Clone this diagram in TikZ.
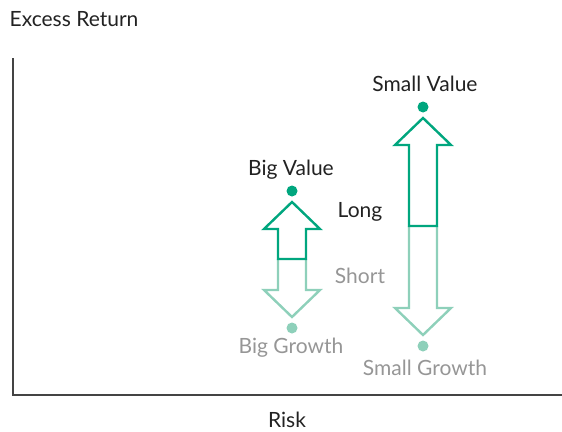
\documentclass[tikz,border=0pt]{standalone}
\usepackage{fontspec}
\setmainfont{Lato}
\definecolor{dkgreen}{RGB}{0,166,126}
\definecolor{ltgreen}{RGB}{142,208,186}
\definecolor{txtdark}{RGB}{34,34,34}
\definecolor{txtgray}{RGB}{150,150,150}
\definecolor{axisc}{RGB}{68,68,68}
\begin{document}
\begin{tikzpicture}[x=1pt,y=-1pt,
  lbl/.style={font=\fontsize{21}{25}\selectfont,text=txtdark,inner sep=0pt},
  glbl/.style={lbl,text=txtgray},
  dotv/.style={circle,fill=dkgreen,inner sep=0pt,minimum size=11pt},
  dotg/.style={circle,fill=ltgreen,inner sep=0pt,minimum size=11pt},
  uparr/.style={draw=dkgreen,line width=2.4pt,fill=white,line join=miter},
  dnarr/.style={draw=ltgreen,line width=2.4pt,fill=white,line join=miter},
  axis/.style={draw=axisc,line width=1.3pt}]
\useasboundingbox (0,0) rectangle (562,431);
% axes
\coordinate (ytop) at (13,58);
\coordinate (orig) at (13,395);
\coordinate (xend) at (562,395);
\draw[axis] (ytop) -- (orig) -- (xend);
\node[lbl] (yl) at (74,19) {Excess Return};
\node[lbl] (xl) at (287,420) {Risk};
% Big arrows
\draw[dnarr] (278,259) -- (278,290) -- (264,290) -- (292,317) -- (320,290) -- (306,290) -- (306,259);
\draw[uparr] (278,259) -- (278,229) -- (264,229) -- (292,202) -- (320,229) -- (306,229) -- (306,259) -- cycle;
\node[dotv] (bv) at (292,191) {};
\node[dotg] (bg) at (292,328) {};
\node[lbl] (bvl) at (291,170) {Big Value};
\node[glbl] (bgl) at (291,348) {Big Growth};
% Small arrows
\draw[dnarr] (409,226) -- (409,308) -- (395,308) -- (423,335) -- (451,308) -- (437,308) -- (437,226);
\draw[uparr] (409,226) -- (409,145) -- (395,145) -- (423,118) -- (451,145) -- (437,145) -- (437,226) -- cycle;
\node[dotv] (sv) at (423,107) {};
\node[dotg] (sg) at (423,346) {};
\node[lbl] (svl) at (425,84) {Small Value};
\node[glbl] (sgl) at (425,368) {Small Growth};
% Long / Short
\node[lbl] (long) at (360,212) {Long};
\node[glbl] (short) at (360,276) {Short};
\end{tikzpicture}
\end{document}
